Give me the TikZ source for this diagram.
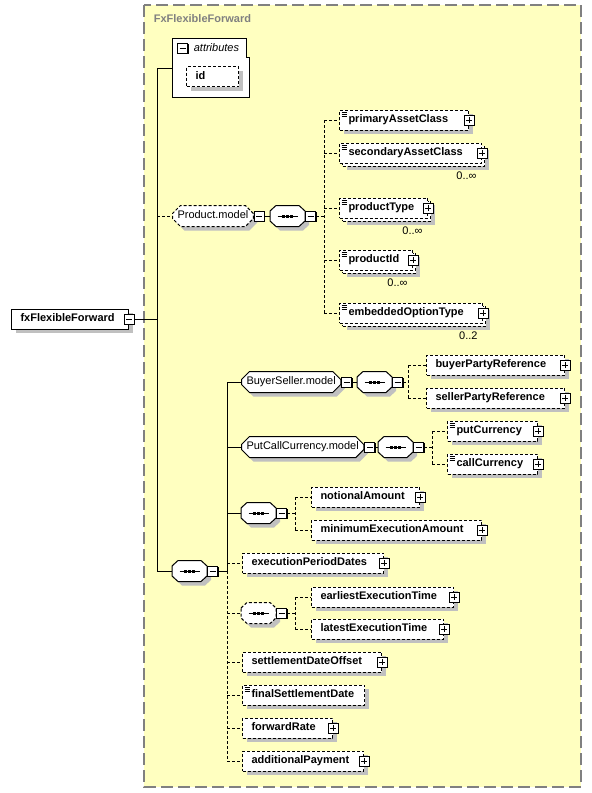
\documentclass[tikz,border=0pt]{standalone}
\usepackage{fontspec}
\setmainfont{Liberation Sans}
\usetikzlibrary{shapes.misc,shadows}
\definecolor{boxfill}{RGB}{255,255,192}
\definecolor{framegray}{RGB}{128,128,128}
\definecolor{shadowgray}{RGB}{192,192,192}
\newcommand{\namefont}{\fontsize{11}{13}\selectfont\bfseries}
\newcommand{\groupfont}{\fontsize{11}{13}\selectfont}
\tikzset{
  opt/.style={dash pattern=on 3pt off 2pt},
  boxshadow/.style={drop shadow={shadow xshift=#1,shadow yshift=-#1,fill=shadowgray,opacity=1}},
  boxshadow/.default=4pt,
  elbase/.style={draw,fill=white,anchor=west,minimum height=20,inner ysep=0,inner xsep=9,
    text width=#1,text height=8,text depth=2.5,align=left,font=\namefont,opt},
  elem/.style={elbase=#1,boxshadow},
  melem/.style={elbase=#1,boxshadow=7pt,
    copy shadow={shadow xshift=3pt,shadow yshift=-3pt,draw,fill=white,opt}},
  btn/.style={draw,solid,fill=white,minimum size=10,inner sep=0,line width=1pt,
    drop shadow={shadow xshift=1pt,shadow yshift=-1pt,fill=black,opacity=1}},
  plusbtn/.style={btn,path picture={\draw (path picture bounding box.center)
    +(-3pt,0) -- +(3pt,0) +(0,-3pt) -- +(0,3pt);}},
  minusbtn/.style={btn,path picture={\draw (path picture bounding box.center)
    +(-3pt,0) -- +(3pt,0);}},
  simplemark/.style={path picture={\foreach \k in {2,4,6}
    \draw[solid,line width=.8pt] ([shift={(2pt,-\k pt)}]path picture bounding box.north west) -- +(5pt,0);}},
  group/.style={chamfered rectangle,chamfered rectangle xsep=4pt,chamfered rectangle ysep=4pt,
    draw,fill=white,anchor=west,
    minimum width=#1,minimum height=21,inner xsep=1,inner ysep=0,text height=8,text depth=2.5,
    font=\groupfont,boxshadow},
  card/.style={label={[anchor=north east,inner sep=0,xshift=-5pt,yshift=-8pt,font=\groupfont]south east:#1}},
  seq/.pic={
    \fill[shadowgray,shift={(4,4)}] (0,-5) -- (6,-10.5) -- (29,-10.5) -- (35,-5) -- (35,5) -- (29,10.5) -- (6,10.5) -- (0,5) -- cycle;
    \draw[fill=white,pic actions] (0,-5) -- (6,-10.5) -- (29,-10.5) -- (35,-5) -- (35,5) -- (29,10.5) -- (6,10.5) -- (0,5) -- cycle;
    \draw[solid] (7.5,0) -- (27.5,0);
    \foreach \d in {13.5,17.5,21.5} \fill[black] (\d-1.2,-1.5) rectangle (\d+1.2,1.5);
    \coordinate (-west) at (0,0);
    \coordinate (-east) at (35,0);
  }
}
\begin{document}
\begin{tikzpicture}[x=1pt,y=-1pt,line width=1pt]
\useasboundingbox (0,0) rectangle (592,793);
% complex type frame
\draw[framegray,line width=2pt,dash pattern=on 12pt off 5pt,fill=boxfill] (144,5) rectangle (581,787);
\node[anchor=west,text=framegray,font=\namefont] (title) at (150,19) {FxFlexibleForward};

% root element
\node[elem=99,solid] (root) at (11,319) {fxFlexibleForward};
\node[minusbtn] (rootbtn) at (root.east) {};

% attributes
\draw[fill=white] (172,38) -- (246,38) -- (246,57) -- (249,57) -- (249,97) -- (172,97) -- cycle;
\coordinate (attr) at (172,68);
\node[minusbtn] (attrbtn) at (182.5,48) {};
\node[anchor=west,font=\groupfont\itshape] (attrlbl) at (190,48) {attributes};
\node[elem=34] (id) at (186,76.5) {id};

% Product.model
\node[group=78,opt] (prod) at (172,216) {Product.model};
\node[minusbtn,anchor=west] (prodbtn) at (prod.east) {};
\pic (s1) at (270,216) {seq};
\node[minusbtn,anchor=west] (s1btn) at (s1-east) {};
\node[elem=111,simplemark] (pac) at (339,120) {primaryAssetClass};
\node[melem=124,simplemark,card=0..∞] (sac) at (339,153) {secondaryAssetClass};
\node[melem=70,simplemark,card=0..∞] (pt) at (339,208) {productType};
\node[melem=55,simplemark,card=0..∞] (pid) at (339,260) {productId};
\node[melem=125,simplemark,card=0..2] (eot) at (339,313) {embeddedOptionType};
\foreach \n in {pac,sac,pt,pid,eot} \node[plusbtn] at (\n.east) {};

% main sequence
\pic (s4) at (172,571) {seq};
\node[minusbtn,anchor=west] (s4btn) at (s4-east) {};

\node[group=96] (bs) at (241,382) {BuyerSeller.model};
\node[minusbtn,anchor=west] (bsbtn) at (bs.east) {};
\pic (s2) at (357,382) {seq};
\node[minusbtn,anchor=west] (s2btn) at (s2-east) {};
\node[elem=120] (bpr) at (426,365) {buyerPartyReference};
\node[elem=120] (spr) at (426,398) {sellerPartyReference};

\node[group=117] (pcc) at (241,447) {PutCallCurrency.model};
\node[minusbtn,anchor=west] (pccbtn) at (pcc.east) {};
\pic (s3) at (378,447) {seq};
\node[minusbtn,anchor=west] (s3btn) at (s3-east) {};
\node[elem=72,simplemark] (put) at (447,431) {putCurrency};
\node[elem=72,simplemark] (call) at (447,464) {callCurrency};

\pic (s5) at (241,513) {seq};
\node[minusbtn,anchor=west] (s5btn) at (s5-east) {};
\node[elem=90] (na) at (311,497) {notionalAmount};
\node[elem=152] (mea) at (311,530) {minimumExecutionAmount};

\node[elem=123] (epd) at (242,563) {executionPeriodDates};
\pic[opt] (s6) at (241,613) {seq};
\node[minusbtn,anchor=west] (s6btn) at (s6-east) {};
\node[elem=124] (eet) at (311,597) {earliestExecutionTime};
\node[elem=114] (let) at (311,629) {latestExecutionTime};
\node[elem=121] (sdo) at (242,662) {settlementDateOffset};
\node[elem=104,simplemark] (fsd) at (242,695) {finalSettlementDate};
\node[elem=72] (fr) at (242,728) {forwardRate};
\node[elem=103] (ap) at (242,761) {additionalPayment};
\foreach \n in {bpr,spr,put,call,na,mea,epd,eet,let,sdo,fr,ap} \node[plusbtn] at (\n.east) {};

% connectors
\coordinate (t1) at (157,68);
\coordinate (t2) at (157,571);
\draw (attr) -- (t1) -- (t2) -- (s4-west);
\draw (rootbtn.east) -- (rootbtn.east -| t1);
\draw[opt] (t1 |- prod.west) -- (prod.west);
\draw (prodbtn.east) -- (s1-west);
\coordinate (b1) at (324,216);
\draw[opt] (s1btn.east) -- (b1);
\draw[opt] (b1 |- pac.west) -- (b1 |- eot.west);
\foreach \n in {pac,sac,pt,pid,eot} \draw[opt] (b1 |- \n.west) -- (\n.west);

\coordinate (b4) at (227,571);
\draw (s4btn.east) -- (b4) -- (b4 |- bs.west);
\draw[opt] (b4) -- (b4 |- ap.west);
\foreach \n in {bs,pcc} \draw (b4 |- \n.west) -- (\n.west);
\draw (b4 |- s5-west) -- (s5-west);
\draw[opt] (b4 |- s6-west) -- (s6-west);
\foreach \n in {epd,sdo,fsd,fr,ap} \draw[opt] (b4 |- \n.west) -- (\n.west);

\draw (bsbtn.east) -- (s2-west);
\coordinate (b2) at (408,382);
\draw[opt] (s2btn.east) -- (b2);
\draw[opt] (b2 |- bpr.west) -- (b2 |- spr.west);
\foreach \n in {bpr,spr} \draw[opt] (b2 |- \n.west) -- (\n.west);

\draw (pccbtn.east) -- (s3-west);
\coordinate (b3) at (432,447);
\draw[opt] (s3btn.east) -- (b3);
\draw[opt] (b3 |- put.west) -- (b3 |- call.west);
\foreach \n in {put,call} \draw[opt] (b3 |- \n.west) -- (\n.west);

\coordinate (b5) at (295,513);
\draw[opt] (s5btn.east) -- (b5);
\draw[opt] (b5 |- na.west) -- (b5 |- mea.west);
\foreach \n in {na,mea} \draw[opt] (b5 |- \n.west) -- (\n.west);

\coordinate (b6) at (295,613);
\draw[opt] (s6btn.east) -- (b6);
\draw[opt] (b6 |- eet.west) -- (b6 |- let.west);
\foreach \n in {eet,let} \draw[opt] (b6 |- \n.west) -- (\n.west);
\end{tikzpicture}
\end{document}
